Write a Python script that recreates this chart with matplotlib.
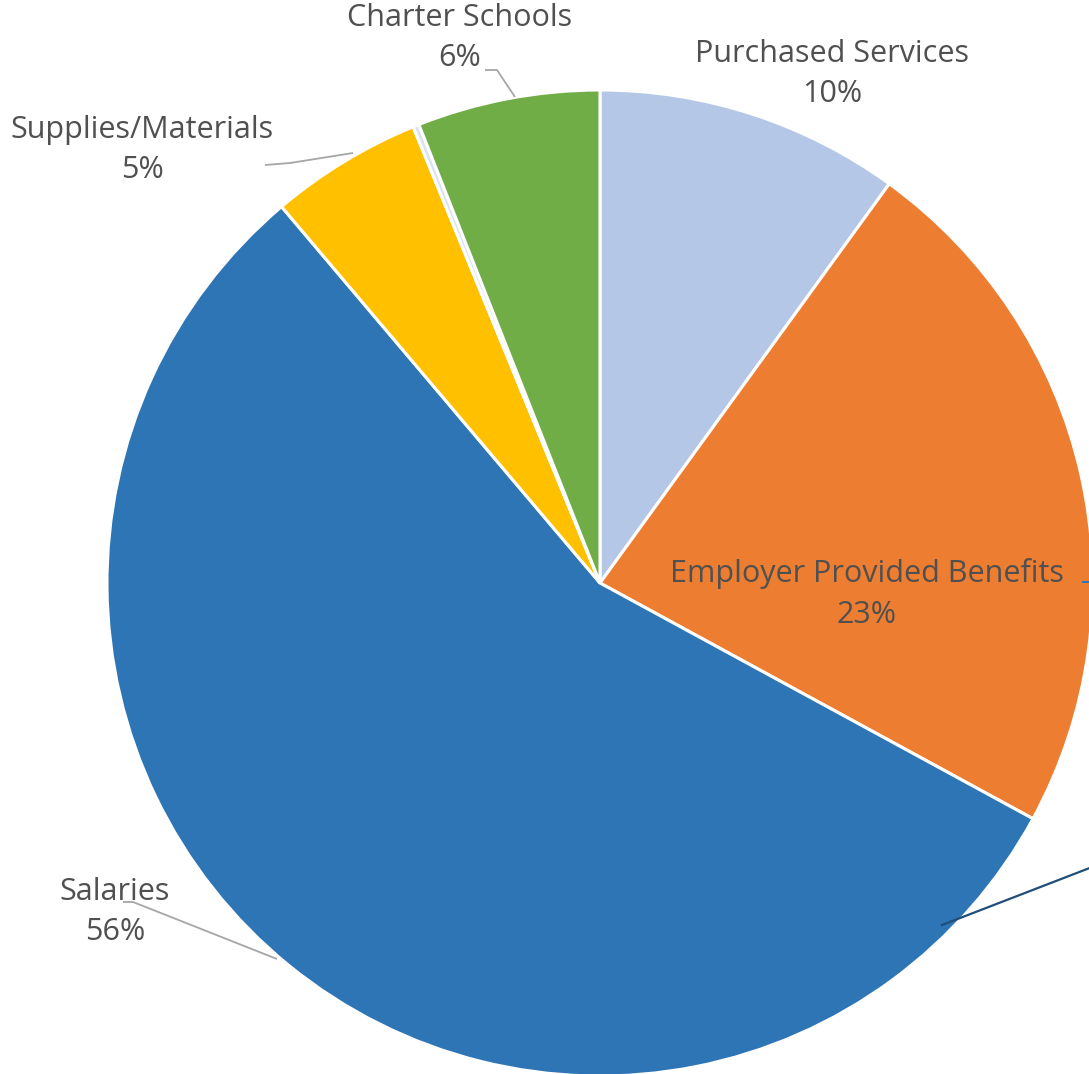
import matplotlib.pyplot as plt

# spending categories, clockwise from 12 o'clock
categories = ['Purchased Services', 'Employer Provided Benefits', 'Salaries',
              'Supplies/Materials', 'Other', 'Charter Schools']
shares = [10, 23, 56, 5, 0.2, 6]
colors = ['#B4C7E7', '#ED7D31', '#2E75B6', '#FFC000', '#DAE3F3', '#70AD47']

W, H = 1089, 1074
plt.rcParams['font.family'] = ['Open Sans', 'DejaVu Sans']

fig = plt.figure(figsize=(W / 100, H / 100), dpi=100)
ax = fig.add_axes([0, 0, 1, 1])

cx, cy, r = 600, H - 583, 493
ax.pie(shares, colors=colors, startangle=90, counterclock=False,
       center=(cx, cy), radius=r, frame=True,
       wedgeprops=dict(edgecolor='white', linewidth=2.2))
ax.set_xlim(0, W)
ax.set_ylim(0, H)
ax.set_aspect('equal')
ax.axis('off')

# label placement (pixel coords from top-left); the sliver has no label
label_pos = {
    'Purchased Services': (832, 74),
    'Employer Provided Benefits': (867, 594),
    'Salaries': (115, 912),
    'Supplies/Materials': (142, 150),
    'Charter Schools': (460, 38),
}
txt_color = '#505050'
for name, val in zip(categories, shares):
    if name not in label_pos:
        continue
    x, y = label_pos[name]
    ax.text(x, H - y, f'{name}\n{val:.0f}%', ha='center', va='center',
            fontsize=22, color=txt_color, linespacing=1.45)

# leader lines
lead = '#A6A6A6'
leaders = [
    [(485, 70), (497, 70), (515, 97)],
    [(265, 165), (290, 163), (353, 153)],
    [(123, 902), (133, 902), (277, 959)],
]
for pts in leaders:
    xs = [p[0] for p in pts]
    ys = [H - p[1] for p in pts]
    ax.plot(xs, ys, color=lead, linewidth=1.3, solid_capstyle='butt')

# dark callout line running off the right edge
ax.plot([942, 1100], [H - 925, H - 864], color='#1F4E79', linewidth=1.6)
ax.plot([1083, 1089], [H - 582, H - 582], color='#2E75B6', linewidth=1.4)

fig.savefig('out.png', dpi=100)
